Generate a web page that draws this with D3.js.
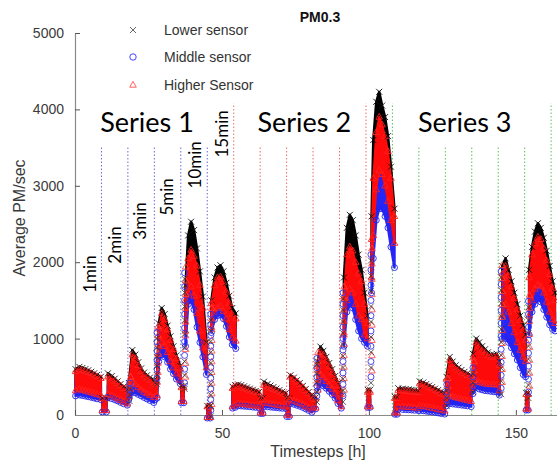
<!DOCTYPE html>
<html><head><meta charset="utf-8">
<script src="https://cdn.jsdelivr.net/npm/d3@7"></script>
<style>body{margin:0;background:#fff}svg{display:block}</style>
</head><body>
<svg id="chart" width="557" height="466"></svg>
<script>
// ---------------- DATA ----------------
const title = "PM0.3";
const sensorNames = ["Lower sensor", "Middle sensor", "Higher Sensor"];
const xTicks = [0, 50, 100, 150];
const yTicks = [0, 1000, 2000, 3000, 4000, 5000];

// number of consecutive samples in each measured run (cloud of points)
const runLengths = [9,2,7,9,10,2,8,2,9, 10,2,8,2,8,2,9,9,2,9, 2,7,9,9,10,9,2,10];

// sample times [h]
const hours = [
  0.2,1.5,2.5,3.5,4.5,5.5,6.5,7.5,8.8,
  9.3,10.7,
  11.2,12.5,13.5,14.5,15.5,16.5,17.8,
  18.3,19.5,20.5,21.5,22.5,23.5,24.5,25.5,26.8,
  27.2,27.9,28.5,29.5,30.5,31.5,32.5,33.5,34.5,35.8,
  36.2,37.0,
  37.6,38.5,39.5,40.5,41.5,42.5,43.5,44.7,
  45.0,46.0,
  46.4,47.5,48.5,49.5,50.5,51.5,52.5,53.5,54.7,
  53.6,54.5,55.5,56.5,57.5,58.5,59.5,60.5,61.5,62.6,
  63.1,63.9,
  64.3,65.5,66.5,67.5,68.5,69.5,70.5,71.7,
  72.1,72.9,
  73.3,74.5,75.5,76.5,77.5,78.5,79.5,80.6,
  81.0,81.9,
  82.6,83.5,84.5,85.5,86.5,87.5,88.5,89.5,90.6,
  91.5,92.5,93.5,94.5,95.5,96.5,97.5,98.5,99.5,
  99.6,100.4,
  100.9,101.5,102.5,103.5,104.5,105.5,106.5,107.5,108.7,
  108.8,109.6,
  110.0,111.5,112.5,113.5,114.5,115.5,116.8,
  117.3,118.5,119.5,120.5,121.5,122.5,123.5,124.5,125.8,
  126.4,127.5,128.5,129.5,130.5,131.5,132.5,133.5,134.8,
  135.4,136.5,137.5,138.5,139.5,140.5,141.5,142.5,143.5,144.4,
  145.4,146.5,147.5,148.5,149.5,150.5,151.5,152.5,153.3,
  153.5,154.2,
  154.5,155.5,156.5,157.5,158.5,159.5,160.5,161.5,162.5,163.3
];
// Lower sensor: upper edge of its cloud
const lowerMax = [
  600,630,615,600,585,565,545,525,500,
  220,220,
  545,510,475,440,405,370,335,
  420,850,790,690,610,555,520,490,455,
  420,450,1200,1400,1320,1170,1030,900,780,640,
  380,380,
  1700,2350,2530,2420,2180,1880,1550,950,
  120,120,
  1500,1800,1930,1960,1880,1730,1560,1400,1330,
  370,390,400,390,375,360,345,330,315,300,
  220,220,
  436,405,385,365,345,325,305,285,
  220,220,
  520,490,455,420,380,340,300,260,
  230,230,
  700,895,840,760,680,600,510,420,300,
  1800,2450,2620,2550,2350,2100,1900,1600,1300,
  330,330,
  2600,3600,4100,4230,4050,3900,3650,3250,2700,
  240,240,
  350,345,340,335,330,325,320,
  440,425,405,385,365,345,325,305,285,
  500,760,700,650,620,590,565,545,520,
  800,1000,950,900,860,820,790,790,800,700,
  1950,2050,1900,1750,1600,1450,1300,1170,1050,
  290,290,
  1900,2200,2400,2510,2450,2320,2150,1950,1750,1600
];
// Higher sensor: upper and lower edge of its cloud
const higherMax = [
  570,600,588,575,560,545,525,505,480,
  215,215,
  500,475,445,415,385,350,315,
  400,790,740,650,575,525,490,460,425,
  400,430,1130,1330,1250,1120,980,860,740,610,
  360,360,
  1500,2050,2160,2080,1950,1700,1400,900,
  110,110,
  1460,1700,1800,1810,1740,1610,1460,1320,1260,
  350,370,380,365,350,338,325,312,298,285,
  200,200,
  390,370,355,340,322,305,288,270,
  200,200,
  500,470,435,400,360,320,280,240,
  210,210,
  640,830,790,720,640,560,470,390,270,
  1550,2100,2200,2150,2000,1850,1750,1450,1200,
  300,300,
  2300,3100,3700,3900,3800,3650,3450,3100,2600,
  220,220,
  320,318,315,310,305,300,295,
  410,400,385,365,345,325,305,285,265,
  470,720,665,620,590,560,540,520,495,
  750,950,900,850,820,780,760,760,765,650,
  1850,1950,1820,1680,1530,1380,1240,1110,980,
  270,270,
  1800,2100,2250,2330,2300,2180,2020,1840,1660,1500
];
const higherMin = [
  320,335,325,315,305,295,282,270,255,
  60,60,
  270,255,235,215,195,172,148,
  240,430,400,360,330,300,280,260,232,
  230,260,800,950,900,820,700,620,540,460,
  180,180,
  1100,1600,1680,1560,1330,1100,880,620,
  -30,-30,
  1150,1350,1400,1420,1360,1260,1120,1010,970,
  110,130,150,145,140,135,130,125,120,112,
  30,30,
  160,155,148,140,132,125,118,110,
  0,0,
  200,185,170,155,135,115,95,70,
  95,95,
  420,520,490,440,390,340,280,190,110,
  1050,1500,1650,1600,1450,1300,1250,1050,1000,
  110,110,
  1800,2350,2950,3200,3150,3000,2800,2550,2250,
  30,30,
  110,108,105,102,100,95,90,
  120,115,108,100,92,85,75,65,55,
  180,250,240,230,220,210,200,190,180,
  350,450,430,420,410,405,400,400,395,320,
  1300,1450,1350,1200,1080,950,850,760,700,
  80,80,
  1300,1500,1650,1700,1680,1600,1480,1350,1250,1200
];
// Middle sensor: lower edge of its cloud
const middleMin = [
  250,262,255,248,240,232,222,212,200,
  40,40,
  230,215,200,185,165,148,128,
  200,300,290,270,250,230,210,190,162,
  200,220,700,790,760,690,600,540,470,410,
  160,160,
  900,1450,1500,1380,1150,950,760,530,
  -40,-40,
  1080,1250,1300,1310,1260,1160,1020,920,870,
  90,100,120,118,115,112,108,104,100,95,
  20,20,
  110,108,104,100,96,92,88,84,
  -20,-20,
  150,140,128,115,100,80,60,35,
  80,80,
  320,400,380,350,310,270,220,150,90,
  900,1350,1450,1400,1250,1100,1000,950,900,
  100,100,
  1600,2050,2550,2700,2700,2600,2450,2200,1930,
  10,10,
  75,72,70,68,66,62,58,
  60,55,50,45,40,35,28,20,12,
  120,150,145,140,135,130,125,120,110,
  280,360,340,330,320,315,310,305,300,260,
  1000,1000,950,880,800,720,620,530,500,
  65,65,
  1050,1350,1450,1520,1480,1380,1280,1180,1120,1100
];

// sparse points recorded while the concentration was jumping up
const rampHours = [18.6, 27.9, 37.3, 46.2, 82.3, 91.2, 100.7, 126.5, 135.4, 145.0, 154.3];
const rampValues = [
  [260,340,420],
  [480,600,720,840,960,1080],
  [420,600,780,960,1140,1320,1500,1680,1860],
  [60,200,340,480,620,760,900,1040,1180,1320],
  [250,380,500,620,740],
  [250,400,550,700,850,1000,1150,1300,1450,1600],
  [500,700,900,1100,1300,1500,1700,1900,2100],
  [200,300,400],
  [380,500,620],
  [350,520,690,860,1030,1200,1370,1540,1710,1880],
  [300,470,640,810,980,1150,1320,1490]
];

// experiment dividers
const dividerHours = [9,18,27,36,45,54,63,72,81,90,99,108,117,126,135,144,153,162];
const dividerSeries = [1,1,1,1,1,2,2,2,2,2,2,3,3,3,3,3,3,3];
const dividerTop = [3520,3520,3520,3520,3520,4080,3520,3520,3520,3520,4080,4080,3520,3520,3520,3520,3520,4080];

const seriesLabels = ["Series 1", "Series 2", "Series 3"];
const seriesLabelHours = [24.5, 78, 132.6];
const seriesLabelValue = 3700;

const durationLabels = ["1min","2min","3min","5min","10min","15min"];
const durationHours = [4.8, 13.3, 22.1, 31.3, 40.8, 50.0];
const durationValues = [1845, 2225, 2540, 2855, 3275, 3680];

// ---------------- CHART ----------------
const svg = d3.select("#chart");
const x = d3.scaleLinear().domain([0, 164]).range([75, 557]);
const y = d3.scaleLinear().domain([0, 5000]).range([415, 33]);
const helv = "Liberation Sans, Arial, Helvetica, sans-serif";
const labelFont = "Lato, Open Sans, sans-serif";

const dividerColor = {1: "#6a6ad8", 2: "#ee6b6b", 3: "#5cbf5c"};

// build the run table
const rows = hours.map((h, i) => ({h, lMax: lowerMax[i], hMax: higherMax[i], hMin: higherMin[i], mMin: middleMin[i]}));
const runs = [];
let k = 0;
runLengths.forEach(n => { runs.push(rows.slice(k, k + n)); k += n; });

// dividers
const gDiv = svg.append("g");
dividerHours.forEach((h, i) => {
  gDiv.append("line")
    .attr("x1", x(h)).attr("x2", x(h))
    .attr("y1", y(0)).attr("y2", y(dividerTop[i]))
    .attr("stroke", dividerColor[dividerSeries[i]])
    .attr("stroke-width", 1)
    .attr("stroke-dasharray", "1.5,2");
});

// axes
const yAxis = d3.axisLeft(y).tickValues(yTicks).tickFormat(d3.format("d")).tickSizeInner(-5).tickSizeOuter(0).tickPadding(11);
const xAxis = d3.axisBottom(x).tickValues(xTicks).tickFormat(d3.format("d")).tickSizeInner(-5).tickSizeOuter(0).tickPadding(13);
const gy = svg.append("g").attr("transform", "translate(75,0)").call(yAxis);
const gx = svg.append("g").attr("transform", "translate(0,415)").call(xAxis);
[gx, gy].forEach(g => {
  g.attr("font-family", helv).attr("font-size", 14);
  g.select(".domain").attr("stroke", "#8a8a8a").attr("stroke-width", 1.2);
  g.selectAll(".tick line").attr("stroke", "#555");
  g.selectAll(".tick text").attr("fill", "#3a3a3a");
});

// data clouds
const gData = svg.append("g");
const areaOf = (lo, hi) => d3.area().x(d => x(d.h)).y0(d => y(lo(d))).y1(d => y(hi(d)));
const blackArea = areaOf(d => d.hMin, d => d.lMax);
const blueArea = areaOf(d => d.mMin, d => (d.hMin + d.hMax) / 2);
const redArea = areaOf(d => d.hMin, d => d.hMax);

const xPath = "M-3,-3L3,3M3,-3L-3,3";
const triPath = "M0,-3.6L3.3,2.2L-3.3,2.2Z";

runs.forEach(r => {
  gData.append("path").attr("d", blackArea(r)).attr("fill", "#000").attr("stroke", "#000").attr("stroke-width", 2.5).attr("stroke-linejoin", "round");
});
runs.forEach(r => {
  gData.append("path").attr("d", blueArea(r)).attr("fill", "#2525f5").attr("stroke", "#2525f5").attr("stroke-width", 2.5).attr("stroke-linejoin", "round");
});
runs.forEach(r => {
  gData.append("path").attr("d", redArea(r)).attr("fill", "#ff0a0a").attr("stroke", "#ff0a0a").attr("stroke-width", 2).attr("stroke-linejoin", "round");
});
// edge markers
rows.forEach(d => {
  gData.append("path").attr("d", xPath).attr("transform", `translate(${x(d.h)},${y(d.lMax)})`)
    .attr("stroke", "#111").attr("stroke-width", 0.9).attr("fill", "none");
  gData.append("circle").attr("cx", x(d.h)).attr("cy", y(d.mMin)).attr("r", 3)
    .attr("stroke", "#2222ee").attr("stroke-width", 0.9).attr("fill", "none");
  gData.append("path").attr("d", triPath).attr("transform", `translate(${x(d.h)},${y(d.hMax)})`)
    .attr("stroke", "#ff2020").attr("stroke-width", 0.9).attr("fill", "none");
  gData.append("path").attr("d", triPath).attr("transform", `translate(${x(d.h)},${y(d.hMin)})`)
    .attr("stroke", "#ff2020").attr("stroke-width", 0.9).attr("fill", "none");
});
// ramp points
rampHours.forEach((h, i) => {
  rampValues[i].forEach(v => {
    gData.append("circle").attr("cx", x(h)).attr("cy", y(v)).attr("r", 3)
      .attr("stroke", "#3333ee").attr("stroke-width", 0.9).attr("fill", "none");
    gData.append("path").attr("d", triPath).attr("transform", `translate(${x(h) + 1},${y(v) - 6})`)
      .attr("stroke", "#ff4040").attr("stroke-width", 0.8).attr("fill", "none");
    gData.append("path").attr("d", xPath).attr("transform", `translate(${x(h)},${y(v) + 6})`)
      .attr("stroke", "#333").attr("stroke-width", 0.8).attr("fill", "none");
  });
});

// annotations
seriesLabels.forEach((s, i) => {
  svg.append("text").attr("x", x(seriesLabelHours[i])).attr("y", y(seriesLabelValue))
    .attr("text-anchor", "middle").attr("fill", "#000")
    .attr("font-family", labelFont).attr("font-size", 27).text(s);
});
durationLabels.forEach((s, i) => {
  svg.append("text")
    .attr("transform", `translate(${x(durationHours[i])},${y(durationValues[i])}) rotate(-90)`)
    .attr("text-anchor", "middle").attr("dominant-baseline", "central").attr("fill", "#000")
    .attr("font-family", labelFont).attr("font-size", 17).text(s);
});

// title and axis titles
svg.append("text").attr("x", 320).attr("y", 22).attr("text-anchor", "middle")
  .attr("font-family", helv).attr("font-size", 14).attr("font-weight", "bold").attr("fill", "#111").text(title);
svg.append("text").attr("x", 318).attr("y", 457).attr("text-anchor", "middle")
  .attr("font-family", helv).attr("font-size", 16).attr("fill", "#3a3a3a").text("Timesteps [h]");
svg.append("text").attr("transform", "translate(25,218) rotate(-90)").attr("text-anchor", "middle")
  .attr("font-family", helv).attr("font-size", 16).attr("fill", "#3a3a3a").text("Average PM/sec");

// legend
const legY = [30, 57, 85];
const gLeg = svg.append("g");
gLeg.append("path").attr("d", xPath).attr("transform", `translate(133,${legY[0]})`).attr("stroke", "#666").attr("stroke-width", 1).attr("fill", "none");
gLeg.append("circle").attr("cx", 133).attr("cy", legY[1]).attr("r", 3.2).attr("stroke", "#4444ff").attr("stroke-width", 1).attr("fill", "none");
gLeg.append("path").attr("d", triPath).attr("transform", `translate(133,${legY[2]})`).attr("stroke", "#ff6060").attr("stroke-width", 1).attr("fill", "none");
sensorNames.forEach((s, i) => {
  gLeg.append("text").attr("x", 164).attr("y", legY[i]).attr("dy", "0.36em")
    .attr("font-family", helv).attr("font-size", 14).attr("fill", "#333").text(s);
});
</script>
</body></html>
